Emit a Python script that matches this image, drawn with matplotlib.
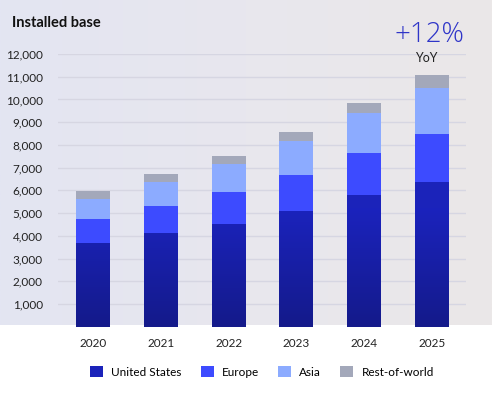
import numpy as np
import matplotlib
matplotlib.use("Agg")
import matplotlib.pyplot as plt
from matplotlib.patches import Patch
from matplotlib.colors import LinearSegmentedColormap

plt.rcParams["font.family"] = ["Lato", "DejaVu Sans"]

# data
years = ["2020", "2021", "2022", "2023", "2024", "2025"]
united_states = [3700, 4120, 4530, 5080, 5780, 6350]
europe = [1040, 1190, 1400, 1610, 1860, 2140]
asia = [880, 1040, 1230, 1470, 1750, 2000]
rest_of_world = [340, 370, 370, 410, 470, 580]
series_names = ["United States", "Europe", "Asia", "Rest-of-world"]
y_ticks = list(range(1000, 13000, 1000))

colors = ["#1B23BA", "#3D4BFF", "#8CABFF", "#A3A8BA"]

W, H = 492, 401
fig = plt.figure(figsize=(W / 100, H / 100), dpi=100)
fig.patch.set_facecolor("white")

# background gradient panel
bg = fig.add_axes([0, (H - 325) / H, 1, 325 / H])
bg.set_zorder(-5)
grad = np.linspace(0, 1, 256).reshape(1, -1)
bg_cmap = LinearSegmentedColormap.from_list("bg", ["#E3E5F2", "#E8E7EE", "#EBE8E8"])
bg.imshow(grad, aspect="auto", cmap=bg_cmap, extent=[0, 1, 0, 1])
bg.axis("off")

ax_left, ax_right, ax_top, ax_bot = 58, 466, 54, 326.7
ax = fig.add_axes([ax_left / W, (H - ax_bot) / H, (ax_right - ax_left) / W, (ax_bot - ax_top) / H])
ax.patch.set_alpha(0)

x = np.arange(len(years))
width = 0.5
bottom = np.zeros(len(years))
stack = [united_states, europe, asia, rest_of_world]
bar_groups = []
for vals, c, name in zip(stack, colors, series_names):
    bars = ax.bar(x, vals, width, bottom=bottom, color=c, label=name, zorder=3,
                  edgecolor="none")
    bar_groups.append(bars)
    bottom += np.array(vals)

# vertical gradient on the US segments
us_cmap = LinearSegmentedColormap.from_list("us", ["#141A8A", "#1B23BD"])
gimg = np.linspace(0, 1, 256).reshape(-1, 1)
for b in bar_groups[0]:
    im = ax.imshow(gimg, aspect="auto", cmap=us_cmap, origin="lower",
                   extent=[b.get_x(), b.get_x() + b.get_width(), 0, 5200], zorder=3.5)
    im.set_clip_path(b)

ax.set_xlim(-0.516, 5.50)
ax.set_ylim(0, 12000)
ax.set_yticks(y_ticks)
ax.set_yticklabels([f"{v:,}" for v in y_ticks])
ax.grid(axis="y", color="#D6D6E2", linewidth=1, zorder=0)
ax.set_xticks(x)
ax.set_xticklabels(years)
for s in ax.spines.values():
    s.set_visible(False)
ax.tick_params(axis="both", length=0, labelsize=8.5, colors="#222222")
ax.tick_params(axis="y", pad=11)
ax.tick_params(axis="x", pad=8)

fig.text(12 / W, 1 - 23 / H, "Installed base", fontsize=10.5, fontweight="bold",
         va="center", ha="left", color="#111111")
fig.text(429 / W, 1 - 35 / H, "+12%", fontsize=20, fontweight="light",
         family=["Open Sans", "Lato", "DejaVu Sans"],
         va="center", ha="center", color="#2F35C8")
fig.text(426 / W, 1 - 58 / H, "YoY", fontsize=9, va="center", ha="center", color="#222222")

handles = [Patch(facecolor=c, edgecolor="none") for c in colors]
fig.legend(handles, series_names, loc="center", bbox_to_anchor=(262 / W, 1 - 372 / H),
           ncol=4, frameon=False, fontsize=8.5, handlelength=1.1, handleheight=1.1,
           handletextpad=0.7, columnspacing=1.6)

fig.savefig("out.png", dpi=100, facecolor="white")
